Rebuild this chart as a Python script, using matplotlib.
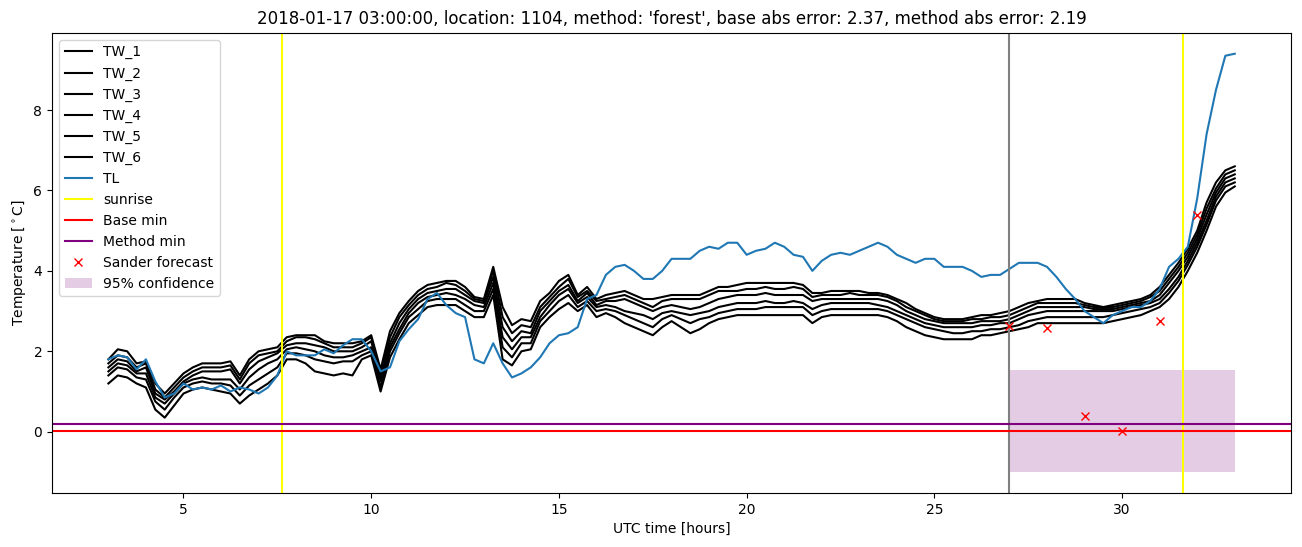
import numpy as np
import matplotlib
matplotlib.use('Agg')
import matplotlib.pyplot as plt

hours = np.arange(3.0, 33.01, 0.25)

tl = [1.80, 1.90, 1.85, 1.55, 1.80, 1.25, 0.85, 0.95, 1.20, 1.05, 1.10, 1.05,
      1.15, 1.00, 1.10, 1.05, 0.95, 1.10, 1.40, 2.00, 1.90, 1.90, 1.90, 2.05,
      1.95, 2.15, 2.30, 2.30, 2.00, 1.50, 1.60, 2.25, 2.55, 2.80, 3.30, 3.45,
      3.15, 2.95, 2.85, 1.80, 1.70, 2.20, 1.70, 1.35, 1.45, 1.60, 1.85, 2.20,
      2.40, 2.45, 2.60, 3.30, 3.40, 3.90, 4.10, 4.15, 4.00, 3.80, 3.80, 4.00,
      4.30, 4.30, 4.30, 4.50, 4.60, 4.55, 4.70, 4.70, 4.40, 4.50, 4.55, 4.70,
      4.60, 4.40, 4.35, 4.00, 4.25, 4.40, 4.45, 4.40, 4.50, 4.60, 4.70, 4.60,
      4.40, 4.30, 4.20, 4.30, 4.30, 4.10, 4.10, 4.10, 4.00, 3.85, 3.90, 3.90,
      4.05, 4.20, 4.20, 4.20, 4.10, 3.85, 3.55, 3.30, 3.00, 2.85, 2.70, 2.90,
      3.00, 3.10, 3.10, 3.25, 3.55, 4.10, 4.30, 4.60, 5.80, 7.40, 8.50, 9.35,
      9.40]

tw_1 = [1.80, 2.05, 2.00, 1.70, 1.75, 1.20, 0.95, 1.20, 1.45, 1.60, 1.70, 1.70,
        1.70, 1.75, 1.40, 1.80, 2.00, 2.05, 2.10, 2.35, 2.40, 2.40, 2.40, 2.25,
        2.20, 2.20, 2.20, 2.25, 2.40, 1.55, 2.50, 2.95, 3.25, 3.50, 3.65, 3.70,
        3.75, 3.75, 3.60, 3.35, 3.30, 4.10, 3.10, 2.65, 2.80, 2.75, 3.25, 3.45,
        3.75, 3.90, 3.40, 3.60, 3.30, 3.40, 3.45, 3.50, 3.40, 3.30, 3.30, 3.35,
        3.40, 3.40, 3.40, 3.40, 3.50, 3.60, 3.60, 3.65, 3.70, 3.70, 3.70, 3.70,
        3.70, 3.70, 3.65, 3.45, 3.45, 3.50, 3.50, 3.50, 3.50, 3.45, 3.45, 3.40,
        3.30, 3.20, 3.05, 2.95, 2.85, 2.80, 2.80, 2.80, 2.85, 2.90, 2.90, 2.95,
        3.00, 3.10, 3.20, 3.25, 3.30, 3.30, 3.30, 3.30, 3.20, 3.15, 3.10, 3.15,
        3.20, 3.25, 3.30, 3.40, 3.60, 3.90, 4.20, 4.55, 5.00, 5.70, 6.20, 6.50,
        6.60]

tw_2 = [1.70, 1.90, 1.85, 1.60, 1.70, 1.05, 0.85, 1.10, 1.35, 1.50, 1.60, 1.60,
        1.60, 1.65, 1.30, 1.70, 1.90, 1.95, 2.00, 2.25, 2.35, 2.35, 2.30, 2.20,
        2.10, 2.10, 2.10, 2.20, 2.35, 1.45, 2.35, 2.85, 3.15, 3.40, 3.55, 3.60,
        3.70, 3.65, 3.50, 3.30, 3.25, 4.00, 2.85, 2.45, 2.65, 2.60, 3.10, 3.35,
        3.60, 3.80, 3.35, 3.50, 3.25, 3.30, 3.35, 3.40, 3.30, 3.20, 3.10, 3.25,
        3.30, 3.30, 3.30, 3.30, 3.40, 3.50, 3.50, 3.50, 3.55, 3.55, 3.60, 3.55,
        3.55, 3.60, 3.55, 3.35, 3.40, 3.40, 3.40, 3.45, 3.40, 3.40, 3.40, 3.35,
        3.25, 3.10, 3.00, 2.90, 2.80, 2.75, 2.75, 2.75, 2.80, 2.80, 2.85, 2.85,
        2.90, 3.00, 3.10, 3.20, 3.20, 3.20, 3.20, 3.20, 3.15, 3.10, 3.10, 3.10,
        3.15, 3.20, 3.25, 3.35, 3.50, 3.80, 4.10, 4.45, 4.90, 5.55, 6.05, 6.40,
        6.50]

tw_3 = [1.60, 1.80, 1.75, 1.50, 1.60, 0.95, 0.80, 1.00, 1.25, 1.40, 1.50, 1.50,
        1.50, 1.55, 1.20, 1.55, 1.75, 1.85, 1.95, 2.15, 2.20, 2.20, 2.15, 2.10,
        2.00, 2.00, 2.00, 2.10, 2.25, 1.35, 2.20, 2.70, 3.05, 3.30, 3.45, 3.50,
        3.55, 3.55, 3.40, 3.25, 3.20, 3.85, 2.60, 2.25, 2.50, 2.45, 3.00, 3.25,
        3.50, 3.65, 3.25, 3.45, 3.15, 3.25, 3.25, 3.30, 3.20, 3.10, 3.00, 3.10,
        3.15, 3.10, 3.05, 3.10, 3.20, 3.30, 3.35, 3.40, 3.40, 3.40, 3.45, 3.40,
        3.40, 3.40, 3.40, 3.25, 3.30, 3.30, 3.30, 3.30, 3.30, 3.30, 3.30, 3.25,
        3.15, 3.00, 2.90, 2.80, 2.75, 2.70, 2.70, 2.70, 2.70, 2.75, 2.75, 2.75,
        2.80, 2.90, 3.00, 3.10, 3.10, 3.10, 3.10, 3.10, 3.10, 3.05, 3.05, 3.05,
        3.10, 3.15, 3.20, 3.25, 3.40, 3.70, 4.00, 4.35, 4.80, 5.40, 5.95, 6.30,
        6.40]

tw_4 = [1.50, 1.70, 1.65, 1.45, 1.45, 0.85, 0.70, 0.95, 1.20, 1.30, 1.35, 1.30,
        1.30, 1.30, 1.05, 1.35, 1.55, 1.70, 1.80, 2.05, 2.10, 2.05, 2.00, 1.90,
        1.85, 1.85, 1.90, 2.00, 2.10, 1.25, 2.10, 2.55, 2.95, 3.20, 3.35, 3.40,
        3.45, 3.40, 3.30, 3.15, 3.10, 3.70, 2.35, 2.05, 2.35, 2.35, 2.85, 3.15,
        3.40, 3.55, 3.20, 3.35, 3.10, 3.15, 3.10, 3.00, 2.95, 2.90, 2.80, 2.95,
        3.00, 2.95, 2.90, 2.95, 3.00, 3.10, 3.15, 3.20, 3.20, 3.20, 3.25, 3.20,
        3.20, 3.25, 3.20, 3.05, 3.15, 3.20, 3.20, 3.20, 3.20, 3.20, 3.15, 3.10,
        3.00, 2.90, 2.80, 2.70, 2.65, 2.60, 2.60, 2.60, 2.60, 2.65, 2.65, 2.70,
        2.70, 2.80, 2.90, 2.95, 3.00, 3.00, 3.00, 3.00, 3.00, 3.00, 3.00, 3.00,
        3.05, 3.10, 3.15, 3.20, 3.30, 3.55, 3.85, 4.25, 4.70, 5.25, 5.85, 6.20,
        6.30]

tw_5 = [1.40, 1.60, 1.55, 1.35, 1.30, 0.75, 0.55, 0.85, 1.10, 1.20, 1.25, 1.20,
        1.20, 1.15, 0.90, 1.15, 1.30, 1.45, 1.60, 1.95, 1.95, 1.90, 1.80, 1.75,
        1.70, 1.75, 1.75, 1.90, 2.00, 1.10, 2.00, 2.45, 2.85, 3.05, 3.25, 3.30,
        3.30, 3.30, 3.15, 3.00, 3.00, 3.55, 2.10, 1.85, 2.20, 2.20, 2.75, 3.00,
        3.25, 3.40, 3.10, 3.25, 3.00, 3.05, 3.00, 2.90, 2.80, 2.70, 2.60, 2.80,
        2.90, 2.80, 2.70, 2.80, 2.85, 2.95, 3.00, 3.05, 3.05, 3.05, 3.10, 3.10,
        3.10, 3.10, 3.10, 2.90, 3.00, 3.05, 3.05, 3.05, 3.05, 3.05, 3.05, 3.00,
        2.90, 2.80, 2.70, 2.60, 2.55, 2.50, 2.45, 2.45, 2.50, 2.50, 2.55, 2.55,
        2.60, 2.65, 2.75, 2.80, 2.85, 2.85, 2.85, 2.85, 2.85, 2.85, 2.85, 2.90,
        2.95, 3.00, 3.05, 3.10, 3.20, 3.45, 3.75, 4.15, 4.60, 5.15, 5.75, 6.10,
        6.20]

tw_6 = [1.20, 1.40, 1.35, 1.20, 1.10, 0.55, 0.35, 0.65, 0.95, 1.05, 1.10, 1.05,
        1.00, 0.95, 0.70, 0.90, 1.05, 1.20, 1.40, 1.80, 1.80, 1.70, 1.50, 1.45,
        1.40, 1.45, 1.40, 1.80, 1.90, 1.00, 1.85, 2.30, 2.70, 2.90, 3.10, 3.15,
        3.15, 3.15, 3.00, 2.85, 2.85, 3.40, 1.80, 1.65, 2.00, 2.05, 2.60, 2.85,
        3.05, 3.20, 3.00, 3.15, 2.85, 2.95, 2.85, 2.70, 2.60, 2.50, 2.40, 2.60,
        2.75, 2.60, 2.45, 2.55, 2.70, 2.80, 2.85, 2.90, 2.90, 2.90, 2.90, 2.90,
        2.90, 2.90, 2.90, 2.70, 2.85, 2.90, 2.90, 2.90, 2.90, 2.90, 2.90, 2.85,
        2.75, 2.60, 2.50, 2.40, 2.35, 2.30, 2.30, 2.30, 2.30, 2.40, 2.40, 2.45,
        2.50, 2.55, 2.60, 2.70, 2.70, 2.70, 2.70, 2.70, 2.70, 2.70, 2.70, 2.75,
        2.80, 2.85, 2.90, 3.00, 3.10, 3.30, 3.60, 4.00, 4.45, 5.00, 5.60, 5.95,
        6.10]

tw_all = [tw_1, tw_2, tw_3, tw_4, tw_5, tw_6]

sunrise = [7.63, 31.62]
forecast_start = 27
base_min = 0.03
method_min = 0.2
sander_hours = [27, 28, 29, 30, 31, 32]
sander_temp = [2.62, 2.57, 0.40, 0.03, 2.75, 5.40]
conf_hours = [27, 33]
conf_low = -1.0
conf_high = 1.53

fig, ax = plt.subplots(figsize=(13.02, 5.47), dpi=100)
for i, tw in enumerate(tw_all):
    ax.plot(hours, tw, color='black', label='TW_%d' % (i + 1))
ax.plot(hours, tl, color='tab:blue', label='TL')
ax.axvline(sunrise[0], color='yellow', label='sunrise')
ax.axvline(sunrise[1], color='yellow')
ax.axvline(forecast_start, color='grey')
ax.axhline(base_min, color='red', label='Base min')
ax.axhline(method_min, color='purple', label='Method min')
ax.plot(sander_hours, sander_temp, 'rx', label='Sander forecast')
ax.fill_between(conf_hours, conf_low, conf_high, color='purple', alpha=0.2,
                linewidth=0, label='95% confidence')

ax.set_title("2018-01-17 03:00:00, location: 1104, method: 'forest', "
             "base abs error: 2.37, method abs error: 2.19")
ax.set_xlabel('UTC time [hours]')
ax.set_ylabel('Temperature [$^\\circ$C]')
ax.legend(loc='upper left')
fig.subplots_adjust(left=0.04, right=0.9916, top=0.94, bottom=0.099)
fig.savefig('out.png')
